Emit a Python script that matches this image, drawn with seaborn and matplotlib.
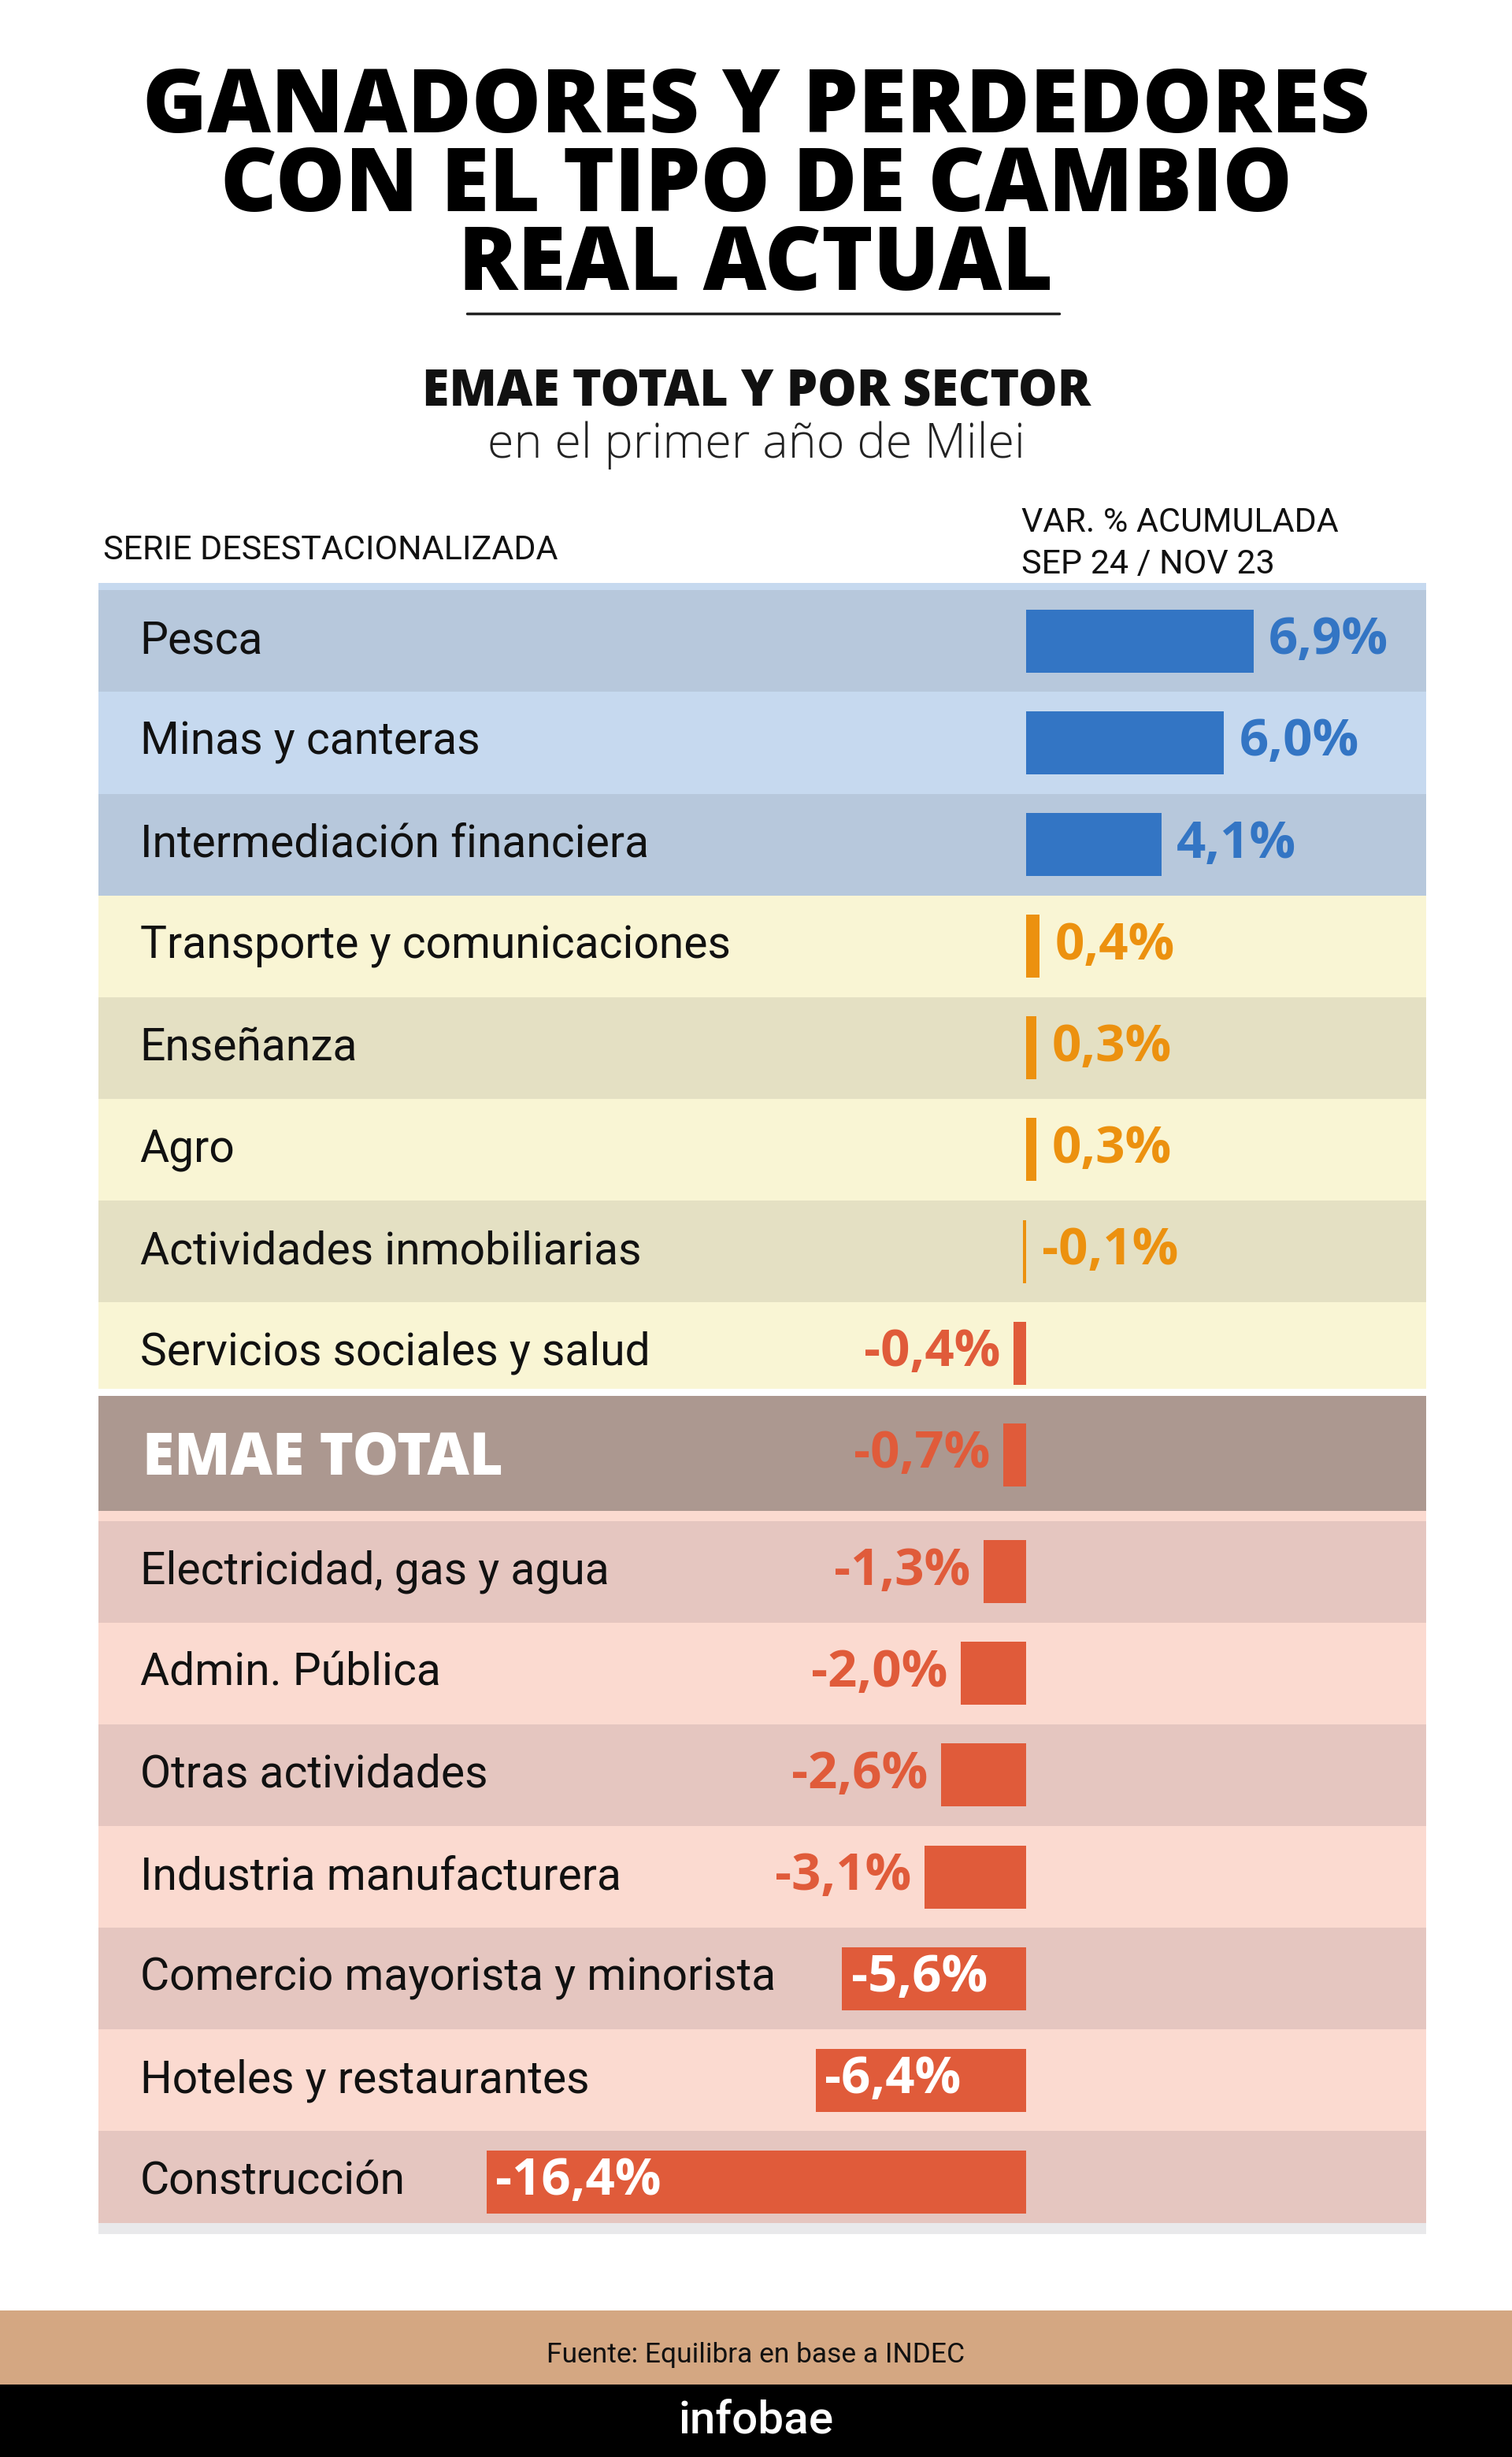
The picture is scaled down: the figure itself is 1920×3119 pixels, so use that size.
import numpy as np
import pandas as pd
import matplotlib
matplotlib.use("Agg")
import matplotlib.pyplot as plt
import seaborn as sns
from matplotlib.patches import Rectangle
from matplotlib.lines import Line2D

# ---------------- data ----------------
sectors = ["Pesca", "Minas y canteras", "Intermediación financiera",
           "Transporte y comunicaciones", "Enseñanza", "Agro",
           "Actividades inmobiliarias", "Servicios sociales y salud",
           "EMAE TOTAL", "Electricidad, gas y agua", "Admin. Pública",
           "Otras actividades", "Industria manufacturera",
           "Comercio mayorista y minorista", "Hoteles y restaurantes",
           "Construcción"]
values = [6.9, 6.0, 4.1, 0.4, 0.3, 0.3, -0.1, -0.4, -0.7,
          -1.3, -2.0, -2.6, -3.1, -5.6, -6.4, -16.4]
groups = ["gana", "gana", "gana", "neutro", "neutro", "neutro", "neutro",
          "pierde", "pierde", "pierde", "pierde", "pierde", "pierde",
          "pierde", "pierde", "pierde"]

title_lines = ["GANADORES Y PERDEDORES", "CON EL TIPO DE CAMBIO", "REAL ACTUAL"]
subtitle = "EMAE TOTAL Y POR SECTOR"
subtitle2 = "en el primer año de Milei"
left_header = "SERIE DESESTACIONALIZADA"
right_header = ["VAR. % ACUMULADA", "SEP 24 / NOV 23"]
source = "Fuente: Equilibra en base a INDEC"
brand = "infobae"

# ---------------- layout / style ----------------
row_pos = [0, 1, 2, 3, 4, 5, 6, 7, 8, 9.15, 10.15, 11.15, 12.15, 13.15, 14.15, 15.15]
band_colors = ["#b7c8dc", "#c6d9ef", "#b7c8dc", "#f9f5d4", "#e4e0c3", "#f9f5d4",
               "#e4e0c3", "#f9f5d4", "#ac9890", "#e5c6c0", "#fbdad0", "#e5c6c0",
               "#fbdad0", "#e5c6c0", "#fbdad0", "#e5c6c0"]
palette = {"gana": "#3375c4", "neutro": "#ec910f", "pierde": "#e05b3a"}

W, H = 1920, 3119
DPI = 100
S = 1.99  # reference preview -> full scale

def Y(d):
    return 1 - d * S / H

def X(d):
    return d * S / W

sns.set_theme(style="white")
plt.rcParams["font.family"] = ["Roboto", "DejaVu Sans"]
bold_font = ["Open Sans", "DejaVu Sans"]

fig = plt.figure(figsize=(W / DPI, H / DPI), dpi=DPI)
fig.patch.set_facecolor("white")

# Title (one multi-line text, anchored at the baseline of its last line)
fig.text(0.5, Y(185), "\n".join(title_lines), ha="center", va="baseline",
         multialignment="center", linespacing=0.86, fontsize=80,
         fontweight="heavy", family=bold_font, color="#000000")
fig.add_artist(Line2D([X(298), X(676)], [Y(200), Y(200)], color="#222222", lw=2.5))

fig.text(0.5, Y(259), subtitle, ha="center", va="baseline", fontsize=45,
         fontweight="heavy", family=bold_font, color="#111111")
fig.text(0.5, Y(292), subtitle2, ha="center", va="baseline", fontsize=44,
         fontweight="light", family=bold_font, color="#222222")

fig.text(X(66), Y(357), left_header, ha="left", va="baseline", fontsize=31, color="#111111")
fig.text(X(652), Y(339), right_header[0], ha="left", va="baseline", fontsize=31, color="#111111")
fig.text(X(652), Y(366), right_header[1], ha="left", va="baseline", fontsize=31, color="#111111")

# Footer bands
fig.add_artist(Rectangle((0, Y(1521)), 1, Y(1474) - Y(1521), transform=fig.transFigure,
                         facecolor="#d4a782", edgecolor="none", zorder=0))
fig.add_artist(Rectangle((0, 0), 1, Y(1521), transform=fig.transFigure,
                         facecolor="#000000", edgecolor="none", zorder=0))
fig.text(0.5, Y(1507), source, ha="center", va="baseline", fontsize=25.5, color="#111111")
fig.text(0.5, Y(1552), brand, ha="center", va="baseline", fontsize=42, color="white",
         fontweight="medium")

# Main table axes
ax_left, ax_right = X(63), X(910)
ax_top, ax_bot = Y(372), Y(1425)
ax = fig.add_axes([ax_left, ax_bot, ax_right - ax_left, ax_top - ax_bot])
ax.set_facecolor("white")

# background bands
for i, (p, c) in enumerate(zip(row_pos, band_colors)):
    top, bot = p - 0.5, p + 0.5
    if i == 7:
        bot = 7.35
    if i == 8:
        top, bot = 7.42, 8.55
    if i == 9:
        top = 8.65
    if i == 15:
        bot = 15.55
    ax.axhspan(top, bot, color=c, zorder=0, lw=0)
ax.axhspan(-0.57, -0.5, color="#c6d9ef", zorder=0, lw=0)
ax.axhspan(8.55, 8.65, color="#fbdad0", zorder=0, lw=0)
ax.axhspan(15.55, 15.66, color="#e9e9eb", zorder=0, lw=0)

df = pd.DataFrame({"sector": sectors, "value": values, "group": groups, "pos": row_pos})
sns.barplot(data=df, x="value", y="pos", hue="group", palette=palette, orient="h",
            native_scale=True, dodge=False, width=0.62, errorbar=None,
            saturation=1, legend=False, ax=ax, zorder=2, linewidth=0,
            edgecolor="none")

x0 = -28.2
x1 = 12.15
ax.set_xlim(x0, x1)
ax.set_ylim(15.66, -0.57)
ax.set_xticks([])
ax.set_yticks([])
ax.set_xlabel("")
ax.set_ylabel("")
for s in ax.spines.values():
    s.set_visible(False)

for name, v, g, p in zip(sectors, values, groups, row_pos):
    lab = f"{v:.1f}%".replace(".", ",")
    if name == "EMAE TOTAL":
        ax.text(0.033, p + 0.04, name, transform=ax.get_yaxis_transform(), ha="left",
                va="center", fontsize=53, fontweight="heavy", family=bold_font, color="white")
    else:
        ax.text(0.031, p, name, transform=ax.get_yaxis_transform(), ha="left",
                va="center", fontsize=41, color="#111111")
    col = palette[g]
    if g in ("gana", "neutro"):
        ax.annotate(lab, (max(v, 0), p), xytext=(14, 0), textcoords="offset points",
                    ha="left", va="center", fontsize=47, fontweight="bold",
                    family=bold_font, color=col, zorder=3)
    elif v > -5:
        ax.annotate(lab, (v, p), xytext=(-12, 0), textcoords="offset points",
                    ha="right", va="center", fontsize=47, fontweight="bold",
                    family=bold_font, color=col, zorder=3)
    else:
        ax.annotate(lab, (v, p), xytext=(8, 0), textcoords="offset points",
                    ha="left", va="center", fontsize=47, fontweight="bold",
                    family=bold_font, color="white", zorder=3)

fig.savefig("out.png", dpi=DPI, facecolor="white")
